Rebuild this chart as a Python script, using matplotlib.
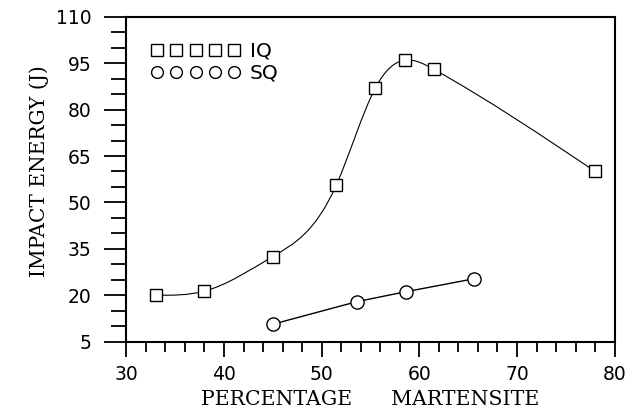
import numpy as np
import matplotlib
matplotlib.use('Agg')
import matplotlib.pyplot as plt
from matplotlib.path import Path
from matplotlib.patches import PathPatch
from matplotlib.lines import Line2D
from matplotlib.ticker import MultipleLocator

# Data
iq_x = [33, 38, 45, 51.5, 55.5, 58.5, 61.5, 78]
iq_y = [20, 21.3, 32.5, 55.6, 87, 96, 93, 60]
sq_x = [45, 53.6, 58.6, 65.6]
sq_y = [10.6, 17.9, 21.1, 25.3]

xticks = [30, 40, 50, 60, 70, 80]
yticks = [5, 20, 35, 50, 65, 80, 95, 110]


def spline_path(x, y):
    # natural cubic spline through the points, drawn as Bezier segments
    x = np.asarray(x, float)
    y = np.asarray(y, float)
    n = len(x)
    h = np.diff(x)
    A = np.zeros((n, n))
    b = np.zeros(n)
    A[0, 0] = A[-1, -1] = 1
    for i in range(1, n - 1):
        A[i, i - 1] = h[i - 1]
        A[i, i] = 2 * (h[i - 1] + h[i])
        A[i, i + 1] = h[i]
        b[i] = 6 * ((y[i + 1] - y[i]) / h[i] - (y[i] - y[i - 1]) / h[i - 1])
    M = np.linalg.solve(A, b)
    m = np.zeros(n)
    for i in range(n - 1):
        m[i] = (y[i + 1] - y[i]) / h[i] - h[i] * (2 * M[i] + M[i + 1]) / 6
    m[-1] = (y[-1] - y[-2]) / h[-1] + h[-1] * (M[-2] + 2 * M[-1]) / 6
    verts = [(x[0], y[0])]
    codes = [Path.MOVETO]
    for i in range(n - 1):
        verts += [(x[i] + h[i] / 3, y[i] + m[i] * h[i] / 3),
                  (x[i + 1] - h[i] / 3, y[i + 1] - m[i + 1] * h[i] / 3),
                  (x[i + 1], y[i + 1])]
        codes += [Path.CURVE4] * 3
    return Path(verts, codes)


fig = plt.figure(figsize=(6.41, 4.11), dpi=100)
ax = fig.add_axes([0.197, 0.169, 0.762, 0.79])

sans = 'DejaVu Sans'
serif = 'DejaVu Serif'

ax.add_patch(PathPatch(spline_path(iq_x, iq_y), fill=False, lw=0.8, color='black'))
ax.plot(iq_x, iq_y, ls='none', marker='s', ms=9, mfc='white', mec='black', mew=1.0)
ax.plot(sq_x, sq_y, color='black', lw=1.0, marker='o', ms=9.5,
        mfc='white', mec='black', mew=1.0)

ax.set_xlim(30, 80)
ax.set_ylim(5, 110)
ax.set_xticks(xticks)
ax.set_yticks(yticks)
ax.xaxis.set_minor_locator(MultipleLocator(2))
ax.yaxis.set_minor_locator(MultipleLocator(5))
ax.tick_params(axis='x', which='major', direction='out', length=11, width=1.3,
               pad=6, labelsize=13.5)
ax.tick_params(axis='x', which='minor', direction='out', length=7, width=1.3)
ax.tick_params(axis='y', which='major', direction='out', length=16, width=1.3,
               pad=9, labelsize=13.5)
ax.tick_params(axis='y', which='minor', direction='out', length=11, width=1.3)
for lab in ax.get_xticklabels() + ax.get_yticklabels():
    lab.set_fontfamily(sans)
for s in ax.spines.values():
    s.set_linewidth(1.5)

ax.set_xlabel('PERCENTAGE      MARTENSITE', fontfamily=serif, fontsize=14.8,
              labelpad=4)
ax.set_ylabel('IMPACT ENERGY (J)', fontfamily=serif, fontsize=14.5)
ax.yaxis.set_label_coords(-0.158, 0.525)

handles = [Line2D([], [], ls='none', marker='s', ms=8, mfc='none', mec='black'),
           Line2D([], [], ls='none', marker='o', ms=8.5, mfc='none', mec='black')]
ax.legend(handles, ['IQ', 'SQ'], loc='upper left', numpoints=5, handlelength=4.4,
          handletextpad=0.5, frameon=False, prop={'family': sans, 'size': 14.5},
          labelspacing=0.15, borderaxespad=0.6, bbox_to_anchor=(0.01, 0.985))

fig.savefig('out.png', dpi=100)
